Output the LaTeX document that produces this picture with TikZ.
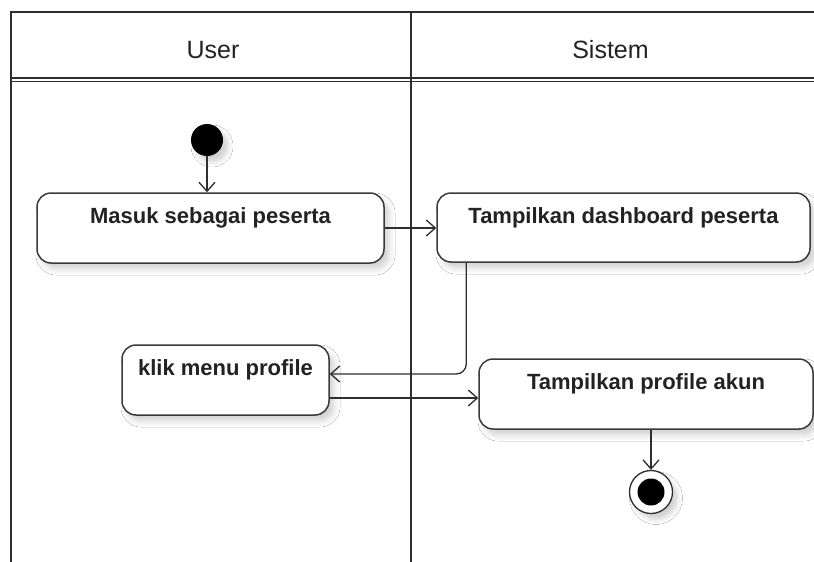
\documentclass[tikz,border=0pt]{standalone}
\usepackage{fontspec}
\setmainfont{Liberation Sans}
\usetikzlibrary{arrows.meta,shadows.blur}

\definecolor{framecol}{HTML}{2E2E2E}
\definecolor{boxcol}{HTML}{3A3A3A}
\definecolor{txtcol}{HTML}{222222}

\tikzset{
  lane/.style={draw=framecol, line width=1.4pt},
  lanehead/.style={text=txtcol, inner sep=0pt, font=\fontsize{25}{30}\selectfont},
  act/.style={draw=boxcol, line width=1.5pt, rounded corners=14pt, fill=white,
    inner sep=0pt,
    blur shadow={shadow xshift=5pt, shadow yshift=-6pt, shadow blur radius=6pt, shadow opacity=18}},
  acttext/.style={anchor=north, yshift=-15pt, inner sep=0pt, text=txtcol,
    font=\bfseries\fontsize{22}{26}\selectfont},
  flow/.style={draw=framecol, line width=1.3pt, -{Straight Barb[length=9pt,width=16pt]}},
  initial/.style={circle, fill=black, minimum size=32pt, inner sep=0pt,
    blur shadow={shadow xshift=5pt, shadow yshift=-6pt, shadow blur radius=5pt, shadow opacity=18}},
  finalring/.style={circle, draw=framecol, line width=1.3pt, fill=white, minimum size=43pt, inner sep=0pt,
    blur shadow={shadow xshift=5pt, shadow yshift=-6pt, shadow blur radius=5pt, shadow opacity=18}},
  finalcore/.style={circle, fill=black, minimum size=27pt, inner sep=0pt},
}

\begin{document}
\begin{tikzpicture}[x=1pt, y=-1pt]
  \useasboundingbox (0,0) rectangle (814,562);
  \fill[white] (0,0) rectangle (814,562);

  % swimlane frame
  \draw[lane] (11,562) -- (11,12) -- (814,12);
  \draw[lane] (411,12) -- (411,562);
  \draw[lane] (11,78) -- (814,78);
  \draw[draw=framecol, line width=1pt] (11,81.5) -- (814,81.5);

  % lane headers
  \node[lanehead] (hUser) at (213,50) {User};
  \node[lanehead] (hSistem) at (610.5,50) {Sistem};

  % activities
  \node[act, minimum width=347pt, minimum height=70pt,
        label={[acttext]north:Masuk sebagai peserta}] (masuk) at (210.5,228) {};
  \node[act, minimum width=373pt, minimum height=69pt,
        label={[acttext]north:Tampilkan dashboard peserta}] (dash) at (623.5,227.5) {};
  \node[act, minimum width=207pt, minimum height=70pt,
        label={[acttext]north:klik menu profile}] (klik) at (225.5,380) {};
  \node[act, minimum width=334pt, minimum height=70pt,
        label={[acttext]north:Tampilkan profile akun}] (akun) at (646,394) {};

  % initial and final nodes
  \node[initial] (start) at (207,140) {};
  \node[finalring] (stop) at (651,492) {};
  \node[finalcore] (stopcore) at (stop) {};

  % control flows
  \draw[flow] (start.south) -- (start.south |- masuk.north);
  \draw[flow] (masuk.east) -- (masuk.east -| dash.west);
  \draw[flow, rounded corners=10pt] ([xshift=30pt]dash.south west)
      |- ([yshift=6pt]klik.east);
  \draw[flow] ([yshift=-18pt]klik.east) -- ([yshift=-18pt]klik.east -| akun.west);
  \draw[flow] (stop |- akun.south) -- (stop.north);
\end{tikzpicture}
\end{document}
